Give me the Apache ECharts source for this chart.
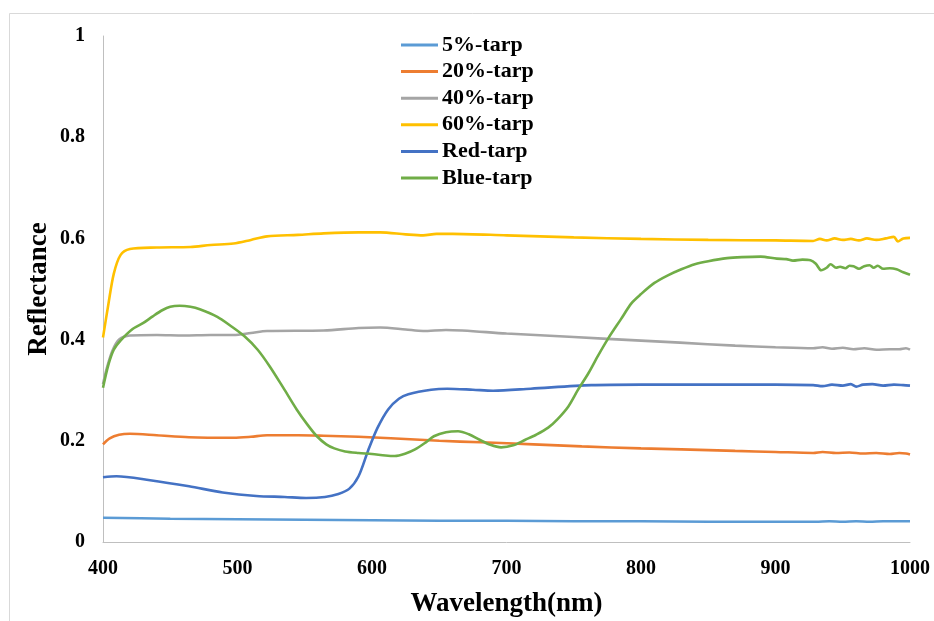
<!DOCTYPE html>
<html>
<head>
<meta charset="utf-8">
<script src="https://cdn.jsdelivr.net/npm/echarts@6/dist/echarts.min.js"></script>
<style>html,body{margin:0;padding:0;background:#fff;}#chart{width:934px;height:621px;}</style>
</head>
<body>
<div id="chart"></div>
<script>
const seriesNames = ['5%-tarp', '20%-tarp', '40%-tarp', '60%-tarp', 'Red-tarp', 'Blue-tarp'];
const xTicks = [400, 500, 600, 700, 800, 900, 1000];
const yTicks = [0, 0.2, 0.4, 0.6, 0.8, 1];

const tarp5 = [[400,0.048],[450,0.046],[500,0.045],[550,0.044],[600,0.043],[650,0.042],[700,0.042],[750,0.041],[800,0.041],[850,0.040],[900,0.040],[930,0.040],[940,0.041],[950,0.040],[960,0.041],[970,0.040],[980,0.041],[990,0.041],[1000,0.041]];

const tarp20 = [[400,0.193],[405,0.205],[412,0.212],[420,0.214],[440,0.211],[464,0.207],[497,0.206],[510,0.208],[522,0.211],[545,0.211],[564,0.210],[590,0.208],[614,0.205],[650,0.200],[681,0.197],[720,0.193],[756,0.189],[800,0.185],[830,0.183],[870,0.180],[900,0.178],[928,0.176],[935,0.178],[945,0.176],[955,0.177],[965,0.175],[975,0.176],[985,0.174],[992,0.176],[997,0.175],[1000,0.173]];

const tarp40 = [[400,0.312],[403,0.345],[407,0.378],[412,0.400],[420,0.408],[440,0.409],[460,0.408],[480,0.409],[497,0.409],[510,0.413],[522,0.417],[564,0.418],[590,0.423],[606,0.424],[625,0.420],[638,0.417],[655,0.419],[700,0.412],[750,0.405],[800,0.398],[829,0.394],[870,0.388],[900,0.385],[928,0.383],[935,0.385],[942,0.382],[950,0.384],[958,0.381],[966,0.383],[975,0.380],[985,0.381],[992,0.381],[997,0.383],[1000,0.380]];

const tarp60 = [[400,0.404],[404,0.470],[408,0.530],[413,0.567],[420,0.579],[440,0.582],[465,0.583],[480,0.587],[497,0.590],[510,0.597],[522,0.604],[545,0.607],[564,0.610],[590,0.612],[606,0.612],[625,0.608],[638,0.606],[648,0.609],[660,0.609],[700,0.606],[750,0.602],[800,0.599],[850,0.597],[900,0.596],[928,0.595],[933,0.599],[938,0.596],[944,0.600],[950,0.597],[956,0.599],[962,0.596],[968,0.600],[975,0.597],[982,0.600],[988,0.603],[991,0.594],[995,0.600],[1000,0.601]];

const redTarp = [[400,0.128],[410,0.130],[435,0.122],[464,0.110],[489,0.098],[514,0.091],[535,0.089],[551,0.087],[565,0.089],[575,0.095],[583,0.105],[590,0.130],[597,0.180],[604,0.225],[612,0.262],[620,0.283],[627,0.292],[644,0.301],[656,0.303],[675,0.301],[690,0.299],[718,0.303],[763,0.310],[800,0.311],[850,0.311],[900,0.311],[928,0.310],[935,0.308],[942,0.311],[950,0.309],[956,0.312],[960,0.307],[965,0.311],[972,0.312],[980,0.309],[988,0.311],[995,0.310],[1000,0.309]];

const blueTarp = [[400,0.305],[404,0.350],[408,0.380],[413,0.398],[422,0.421],[430,0.433],[437,0.446],[444,0.458],[450,0.465],[457,0.467],[465,0.465],[472,0.460],[485,0.445],[495,0.427],[505,0.407],[515,0.380],[524,0.347],[534,0.305],[544,0.262],[552,0.232],[559,0.209],[566,0.193],[572,0.185],[580,0.179],[590,0.176],[600,0.174],[610,0.171],[617,0.170],[625,0.175],[632,0.183],[640,0.197],[646,0.209],[655,0.217],[664,0.219],[672,0.213],[680,0.202],[688,0.192],[696,0.187],[705,0.191],[714,0.202],[722,0.212],[731,0.226],[738,0.243],[746,0.268],[753,0.300],[761,0.334],[768,0.368],[776,0.404],[785,0.440],[793,0.472],[800,0.490],[810,0.512],[820,0.527],[830,0.539],[840,0.549],[850,0.555],[864,0.561],[875,0.563],[889,0.564],[901,0.560],[908,0.559],[913,0.556],[920,0.558],[926,0.557],[930,0.550],[934,0.537],[938,0.542],[941,0.549],[945,0.542],[948,0.544],[952,0.541],[955,0.546],[958,0.545],[962,0.540],[966,0.545],[970,0.547],[973,0.542],[976,0.546],[980,0.540],[985,0.541],[990,0.539],[995,0.533],[1000,0.528]];

const allData = [tarp5, tarp20, tarp40, tarp60, redTarp, blueTarp];
const colors = ['#5B9BD5', '#ED7D31', '#A5A5A5', '#FFC000', '#4472C4', '#70AD47'];
const FONT = '"Liberation Serif", "Times New Roman", serif';

const chart = echarts.init(document.getElementById('chart'), null, {renderer: 'canvas'});
chart.setOption({
  animation: false,
  backgroundColor: '#fff',
  color: colors,
  graphic: [{
    type: 'rect', left: 7, top: 11, silent: true,
    shape: {x: 0, y: 0, width: 960, height: 640},
    style: {fill: 'none', stroke: '#d9d9d9', lineWidth: 1}
  }],
  grid: {left: 103, right: 24, top: 36, bottom: 79, containLabel: false, outerBoundsMode: 'none'},
  legend: {
    orient: 'vertical', left: 396, top: 29,
    icon: 'rect',
    itemWidth: 37, itemHeight: 3, itemGap: 4.6,
    data: seriesNames,
    textStyle: {fontFamily: FONT, fontWeight: 'bold', fontSize: 22, color: '#000', lineHeight: 21, padding: [0, 0, 0, -1]}
  },
  xAxis: {
    type: 'value', min: xTicks[0], max: xTicks[xTicks.length - 1], interval: 100,
    name: 'Wavelength(nm)', nameLocation: 'middle', nameGap: 49,
    nameTextStyle: {fontFamily: FONT, fontWeight: 'bold', fontSize: 27, color: '#000'},
    axisLine: {show: true, lineStyle: {color: '#bfbfbf', width: 1}},
    axisTick: {show: false},
    splitLine: {show: false},
    axisLabel: {fontFamily: FONT, fontWeight: 'bold', fontSize: 20, color: '#000', margin: 17,
      formatter: v => String(v)}
  },
  yAxis: {
    type: 'value', min: yTicks[0], max: yTicks[yTicks.length - 1], interval: 0.2,
    name: 'Reflectance', nameLocation: 'middle', nameGap: 50, nameRotate: 90,
    nameMoveOverlap: false,
    nameTextStyle: {fontFamily: FONT, fontWeight: 'bold', fontSize: 27, color: '#000'},
    axisLine: {show: true, lineStyle: {color: '#bfbfbf', width: 1}},
    axisTick: {show: false},
    splitLine: {show: false},
    axisLabel: {fontFamily: FONT, fontWeight: 'bold', fontSize: 20, color: '#000', margin: 18,
      formatter: v => String(Math.round(v * 10) / 10)}
  },
  series: seriesNames.map((n, i) => ({
    name: n, type: 'line', data: allData[i], symbol: 'none', smooth: 0.3,
    lineStyle: {width: 2.6, color: colors[i]}, itemStyle: {color: colors[i]}
  }))
});
</script>
</body>
</html>
